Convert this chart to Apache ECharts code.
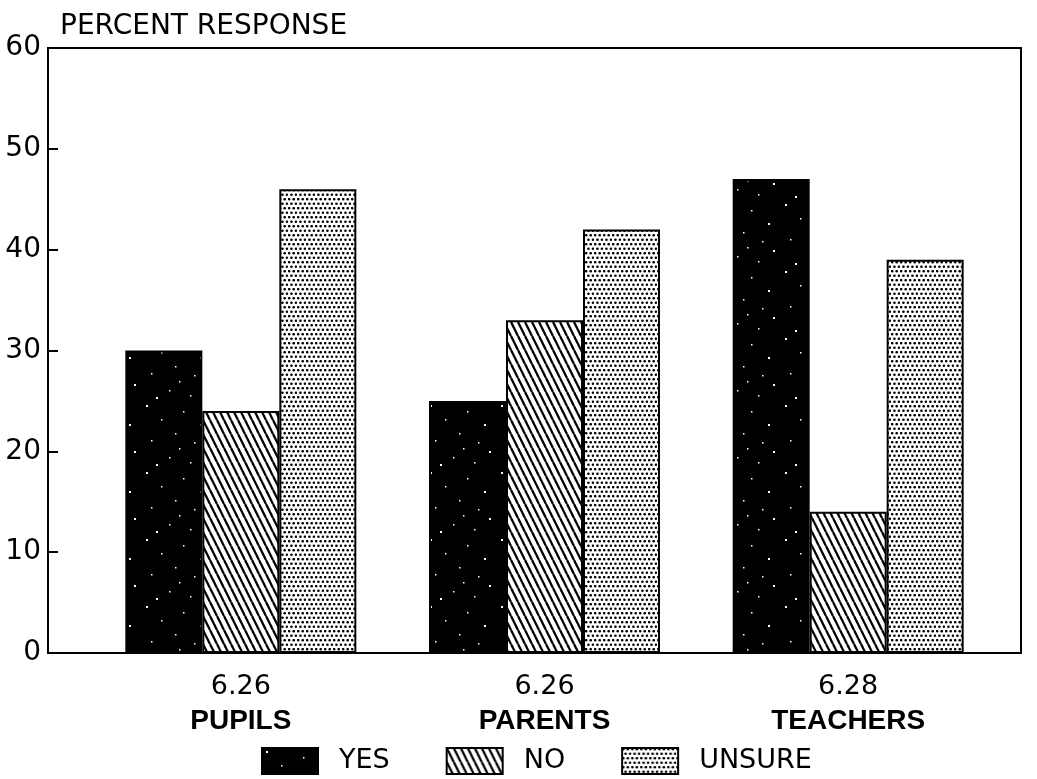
<!DOCTYPE html>
<html>
<head>
<meta charset="utf-8">
<script src="https://cdn.jsdelivr.net/npm/echarts@6/dist/echarts.min.js"></script>
<style>
  html, body { margin: 0; padding: 0; background: #fff; }
  #chart { width: 1037px; height: 779px; }
</style>
</head>
<body>
<div id="chart"></div>
<script>
// data
let groups = ['PUPILS', 'PARENTS', 'TEACHERS'];
let groupCodes = ['6.26', '6.26', '6.28'];
let seriesNames = ['YES', 'NO', 'UNSURE'];
let yesValues = [30, 25, 47];
let noValues = [24, 33, 14];
let unsureValues = [46, 42, 39];
let yTicks = [0, 10, 20, 30, 40, 50, 60];

// hatch "\\\" for NO
function makeHatch() {
    let c = document.createElement('canvas');
    c.width = 7;
    c.height = 14;
    let ctx = c.getContext('2d');
    ctx.fillStyle = '#fff';
    ctx.fillRect(0, 0, 7, 14);
    ctx.strokeStyle = '#000';
    ctx.lineWidth = 2.3;
    for (let k = -1; k <= 1; ++k) {
        ctx.beginPath();
        ctx.moveTo(k * 7, 0);
        ctx.lineTo(k * 7 + 7, 14);
        ctx.stroke();
    }
    return c;
}

// staggered dots for UNSURE
function makeDots() {
    let c = document.createElement('canvas');
    c.width = 9;
    c.height = 9;
    let ctx = c.getContext('2d');
    ctx.fillStyle = '#fff';
    ctx.fillRect(0, 0, 9, 9);
    ctx.fillStyle = '#000';
    let pts = [[1.2, 1.2], [5.7, 1.2], [3.45, 5.7], [7.95, 5.7]];
    pts.forEach(function (p) {
        ctx.beginPath();
        ctx.arc(p[0], p[1], 1.3, 0, Math.PI * 2);
        ctx.fill();
    });
    return c;
}

// black with a few scattered white specks for YES
function makeSpeckle() {
    let c = document.createElement('canvas');
    c.width = 71;
    c.height = 67;
    let ctx = c.getContext('2d');
    ctx.fillStyle = '#000';
    ctx.fillRect(0, 0, 71, 67);
    ctx.fillStyle = '#fff';
    let specks = [[4, 3], [41, 9], [19, 17], [58, 22], [9, 38], [33, 31], [63, 49],
                  [27, 55], [48, 60], [14, 62], [52, 40], [37, 46]];
    specks.forEach(function (p, i) {
        let s = (i % 3 === 0) ? 2 : 1.5;
        ctx.fillRect(p[0], p[1], s, s);
    });
    return c;
}

let hatchFill = { image: makeHatch(), repeat: 'repeat' };
let dotFill = { image: makeDots(), repeat: 'repeat' };
let speckFill = { image: makeSpeckle(), repeat: 'repeat' };

let Chart = echarts.init(document.getElementById('chart'));

let barStyle = function (fill) {
    return { color: fill, borderColor: '#000', borderWidth: 2 };
};

let option = {
    animation: false,
    backgroundColor: '#fff',
    title: {
        text: 'PERCENT RESPONSE',
        left: 55,
        top: 8,
        textStyle: { fontFamily: 'DejaVu Sans', fontSize: 28, fontWeight: 'normal', color: '#000' }
    },
    legend: {
        data: seriesNames,
        left: 256,
        top: 742,
        icon: 'rect',
        itemWidth: 56,
        itemHeight: 26,
        itemGap: 56,
        textStyle: { fontFamily: 'DejaVu Sans', fontSize: 27, color: '#000', padding: [0, 0, 0, 16] }
    },
    grid: [
        { left: 48, right: 16, top: 48, bottom: 126, show: true, borderColor: '#000', borderWidth: 2 },
        { left: 89, right: 37, top: 48, bottom: 126 }
    ],
    xAxis: [
        { type: 'category', gridIndex: 0, data: [''], show: false },
        {
            type: 'category',
            gridIndex: 1,
            data: groups,
            axisLine: { show: false },
            axisTick: { show: false },
            axisLabel: {
                margin: 17,
                formatter: function (val, idx) {
                    return '{a|' + groupCodes[idx] + '}\n{b|' + val + '}';
                },
                rich: {
                    a: { fontFamily: 'DejaVu Sans', fontSize: 27, color: '#000', lineHeight: 34 },
                    b: { fontFamily: 'Liberation Sans', fontSize: 28, fontWeight: 'bold', color: '#000', lineHeight: 34 }
                }
            }
        }
    ],
    yAxis: [
        {
            type: 'value',
            gridIndex: 0,
            min: yTicks[0],
            max: yTicks[yTicks.length - 1],
            interval: 10,
            axisLine: { show: true, lineStyle: { color: '#000', width: 2 } },
            axisTick: { show: true, inside: true, length: 10, lineStyle: { color: '#000', width: 2 } },
            splitLine: { show: false },
            axisLabel: { margin: 7, fontFamily: 'DejaVu Sans', fontSize: 28, color: '#000' }
        },
        {
            type: 'value',
            gridIndex: 1,
            min: yTicks[0],
            max: yTicks[yTicks.length - 1],
            show: false,
            splitLine: { show: false }
        }
    ],
    series: [
        { name: 'YES', type: 'bar', xAxisIndex: 1, yAxisIndex: 1, barWidth: 77, barGap: '0%', data: yesValues, itemStyle: barStyle(speckFill) },
        { name: 'NO', type: 'bar', xAxisIndex: 1, yAxisIndex: 1, barWidth: 77, barGap: '0%', data: noValues, itemStyle: barStyle(hatchFill) },
        { name: 'UNSURE', type: 'bar', xAxisIndex: 1, yAxisIndex: 1, barWidth: 77, barGap: '0%', data: unsureValues, itemStyle: barStyle(dotFill) }
    ]
};

Chart.setOption(option);
</script>
</body>
</html>
